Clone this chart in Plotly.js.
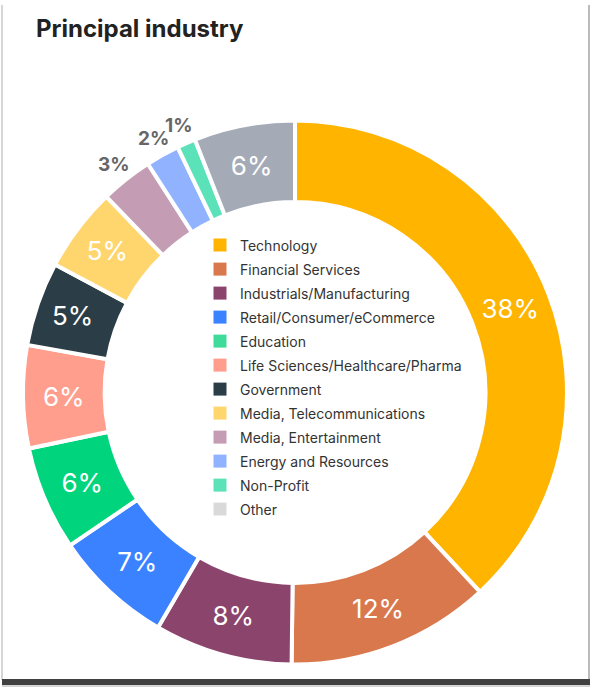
<!DOCTYPE html>
<html>
<head>
<meta charset="utf-8">
<script src="https://cdn.plot.ly/plotly-3.0.1.min.js"></script>
<style>
html,body{margin:0;padding:0;background:#fff;}
#chart{width:591px;height:687px;}
</style>
</head>
<body>
<div id="chart"></div>
<script>
const categories = ["Technology","Financial Services","Industrials/Manufacturing","Retail/Consumer/eCommerce","Education","Life Sciences/Healthcare/Pharma","Government","Media, Telecommunications","Media, Entertainment","Energy and Resources","Non-Profit","Other"];
const values = [38.1, 12.1, 8.2, 7.1, 6.2, 6.1, 5.0, 5.0, 3.1, 2.0, 1.1, 6.0];
const percentLabels = ["38%","12%","8%","7%","6%","6%","5%","5%","3%","2%","1%","6%"];
const sliceColors = ["#FFB400","#D9784D","#8B446C","#3A82FF","#00D47C","#FF9E8C","#2B3E47","#FFD66E","#C49DB4","#91B3FF","#5CE2B8","#A4AAB6"];
const legendColors = ["#FFB400","#D9784D","#8B446C","#3A82FF","#3EDB9A","#FF9E8C","#2B3E47","#FFD66E","#C49DB4","#91B3FF","#5CE2B8","#D9D9D9"];
const outsideSet = ["Media, Entertainment","Energy and Resources","Non-Profit"];

const W = 591, H = 687;
const cx = 295, cy = 392.5, R = 272;
const px = v => v / W, py = v => 1 - v / H;

const isOutside = categories.map(c => outsideSet.includes(c));

const pie = {
  type: 'pie',
  labels: categories,
  values: values,
  text: percentLabels.map((t, i) => isOutside[i] ? '' : t),
  texttemplate: '%{text}',
  hoverinfo: 'label+value',
  sort: false,
  direction: 'clockwise',
  rotation: 0,
  hole: 0.70,
  showlegend: false,
  marker: {colors: sliceColors, line: {color: '#ffffff', width: 4}},
  textposition: 'inside',
  insidetextorientation: 'horizontal',
  insidetextfont: {family: 'Inter, sans-serif', size: 26, color: '#ffffff'},
  domain: {x: [(cx - R) / W, (cx + R) / W], y: [1 - (cy + R) / H, 1 - (cy - R) / H]}
};

// outside labels for the small slices, placed at each slice's mid-angle just outside the ring
const total = values.reduce((a, b) => a + b, 0);
const annotations = [];
let cum = 0;
values.forEach((v, i) => {
  const mid = (cum + v / 2) / total * 2 * Math.PI;
  cum += v;
  if (isOutside[i]) {
    const r = R + 19;
    annotations.push({
      xref: 'paper', yref: 'paper',
      x: px(cx + r * Math.sin(mid)), y: py(cy - r * Math.cos(mid)),
      xanchor: 'center', yanchor: 'middle',
      text: '<b>' + percentLabels[i] + '</b>',
      showarrow: false,
      font: {family: 'Inter, sans-serif', size: 19, color: '#666666'}
    });
  }
});

const legendTraces = categories.map((c, i) => ({
  type: 'scatter',
  mode: 'markers',
  x: [null], y: [null],
  name: c,
  legendgroup: 'g' + i,
  showlegend: true,
  marker: {symbol: 'square', size: 13, color: legendColors[i]},
  hoverinfo: 'skip'
}));

const layout = {
  width: W, height: H,
  margin: {l: 0, r: 0, t: 0, b: 0},
  paper_bgcolor: '#ffffff',
  plot_bgcolor: 'rgba(0,0,0,0)',
  xaxis: {visible: false, range: [0, 1]},
  yaxis: {visible: false, range: [0, 1]},
  title: {
    text: '<b>Principal industry</b>',
    x: px(36), xanchor: 'left', xref: 'paper',
    y: py(29), yanchor: 'middle', yref: 'paper',
    font: {family: 'Inter, sans-serif', size: 24, color: '#222222'}
  },
  showlegend: true,
  legend: {
    x: px(200), xanchor: 'left',
    y: py(229.5), yanchor: 'top',
    bgcolor: 'rgba(0,0,0,0)',
    borderwidth: 0,
    tracegroupgap: 2.8,
    itemclick: false,
    font: {family: 'Inter, sans-serif', size: 14, color: '#333333'}
  },
  annotations: annotations,
  shapes: [
    {type: 'line', xref: 'paper', yref: 'paper', x0: px(2), x1: px(2), y0: py(5), y1: py(680), line: {color: '#C8C8C8', width: 1.5}},
    {type: 'line', xref: 'paper', yref: 'paper', x0: px(589), x1: px(589), y0: py(5), y1: py(680), line: {color: '#BBBBBB', width: 2}},
    {type: 'rect', xref: 'paper', yref: 'paper', x0: px(2), x1: px(590), y0: py(685), y1: py(679), fillcolor: '#404040', line: {width: 0}},
    {type: 'line', xref: 'paper', yref: 'paper', x0: px(2), x1: px(590), y0: py(686), y1: py(686), line: {color: '#AAAAAA', width: 1}}
  ]
};

Plotly.newPlot('chart', [pie].concat(legendTraces), layout, {displayModeBar: false, staticPlot: true});
</script>
</body>
</html>
